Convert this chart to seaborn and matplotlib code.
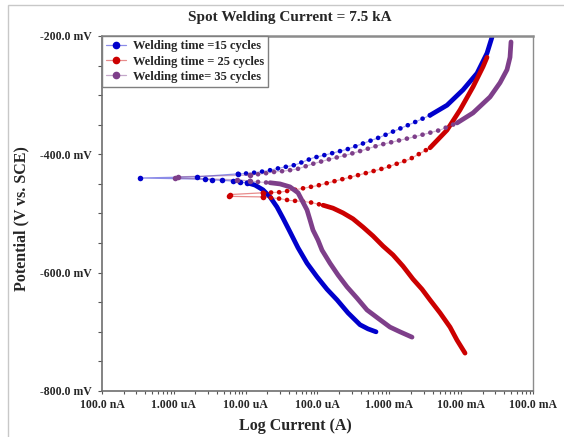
import numpy as np
import pandas as pd
import seaborn as sns
import matplotlib
matplotlib.use("Agg")
import matplotlib.pyplot as plt
from matplotlib.lines import Line2D
from matplotlib.patches import Rectangle
from matplotlib.ticker import FixedLocator, FixedFormatter, LogLocator, MultipleLocator, NullFormatter

sns.set_theme(style="white")
plt.rcParams["font.family"] = ["Liberation Serif", "DejaVu Serif"]
plt.rcParams["font.weight"] = "bold"

TITLE = "Spot Welding Current = 7.5 kA"
X_LABEL = "Log Current (A)"
Y_LABEL = "Potential (V vs. SCE)"
series_names = ["Welding time =15 cycles", "Welding time = 25 cycles", "Welding time= 35 cycles"]
series_colors = ["#0000cc", "#cc0000", "#7e3f8a"]

current_ticks = [1e-7, 1e-6, 1e-5, 1e-4, 1e-3, 1e-2, 1e-1]
current_labels = ["100.0 nA", "1.000 uA", "10.00 uA", "100.0 uA", "1.000 mA", "10.00 mA", "100.0 mA"]
potential_ticks = [-800, -600, -400, -200]
potential_labels = ["-800.0 mV", "-600.0 mV", "-400.0 mV", "-200.0 mV"]

# log10(current / A) and potential (mV)
# 15 cycles
c15_cath_logi = [-4.981, -4.870, -4.759, -4.661, -4.564, -4.480, -4.383, -4.271, -4.146, -4.007,
                 -3.868, -3.728, -3.575, -3.408, -3.297, -3.185]
c15_cath_mv = [-448, -452, -460, -472, -489, -508, -531, -558, -584, -607,
               -628, -646, -668, -688, -695, -700]
c15_ecorr_logi = [-5.079, -5.176, -5.329, -5.469, -5.566, -6.471, -5.677]
c15_ecorr_mv = [-447, -445, -444, -443, -442, -440, -438]
c15_anod_logi = [-5.107, -4.940, -4.703, -4.522, -4.313, -4.063, -3.826, -3.575, -3.130, -2.670,
                 -2.434, -2.197, -1.974, -1.779, -1.640, -1.571]
c15_anod_mv = [-433, -432, -428, -423, -418, -406, -399, -391, -371, -347,
               -334, -317, -291, -263, -229, -202]

# 25 cycles
c25_cath_logi = [-4.759, -4.522, -4.383, -4.271, -4.104, -3.923, -3.784, -3.645, -3.506, -3.366,
                 -3.227, -3.088, -2.949, -2.810, -2.670, -2.545, -2.434, -2.294, -2.155, -2.058, -1.946]
c25_cath_mv = [-472, -475, -478, -479, -481, -486, -491, -499, -509, -523,
               -538, -555, -570, -589, -611, -628, -646, -668, -692, -714, -736]
c25_ecorr_logi = [-5.232, -5.220]
c25_ecorr_mv = [-471, -468]
c25_anod_logi = [-4.759, -4.522, -4.271, -4.007, -3.687, -3.366, -3.060, -2.712, -2.434, -2.197,
                 -2.016, -1.835, -1.696, -1.640]
c25_anod_mv = [-465, -464, -459, -453, -443, -433, -423, -408, -389, -359,
               -325, -286, -252, -236]

# 35 cycles
c35_cath_logi = [-4.940, -4.800, -4.661, -4.522, -4.383, -4.271, -4.202, -4.146, -4.104, -4.063,
                 -3.993, -3.937, -3.826, -3.714, -3.589, -3.450, -3.311, -3.158, -2.991, -2.851, -2.684]
c35_cath_mv = [-445, -447, -448, -450, -455, -465, -481, -494, -511, -528,
               -545, -562, -584, -604, -624, -643, -663, -677, -692, -700, -709]
c35_ecorr_logi = [-5.121, -5.984, -5.942]
c35_ecorr_mv = [-443, -440, -438]
c35_anod_logi = [-4.940, -4.773, -4.619, -4.452, -4.285, -4.063, -3.826, -3.589, -3.366, -3.130,
                 -2.670, -2.294, -2.058, -1.835, -1.598, -1.459, -1.362, -1.320, -1.306]
c35_anod_mv = [-435, -433, -430, -428, -425, -416, -408, -401, -393, -384,
               -371, -359, -347, -330, -303, -279, -257, -236, -210]

curves = [
    (c15_cath_logi, c15_cath_mv, c15_ecorr_logi, c15_ecorr_mv, c15_anod_logi, c15_anod_mv),
    (c25_cath_logi, c25_cath_mv, c25_ecorr_logi, c25_ecorr_mv, c25_anod_logi, c25_anod_mv),
    (c35_cath_logi, c35_cath_mv, c35_ecorr_logi, c35_ecorr_mv, c35_anod_logi, c35_anod_mv),
]
# where the sparse dots turn into a solid-looking trace (mV)
cath_dot_limit = [-448, -486, -448]
anod_dot_limit = [-334, -389, -347]

DOTS = (0, (0.01, 1.7))


def draw_seg(ax, logi, mv, color, dotted):
    if len(logi) < 2:
        return
    df = pd.DataFrame({"I": np.power(10.0, logi), "E": mv})
    if dotted:
        sns.lineplot(data=df, x="I", y="E", sort=False, estimator=None, ax=ax,
                     color=color, lw=0.8, alpha=0.35)
        sns.lineplot(data=df, x="I", y="E", sort=False, estimator=None, ax=ax,
                     color=color, lw=3.4, linestyle=DOTS, dash_capstyle="round")
    else:
        sns.lineplot(data=df, x="I", y="E", sort=False, estimator=None, ax=ax,
                     color=color, lw=3.4, solid_capstyle="round", solid_joinstyle="round")


def draw_curve(ax, curve, color, cath_lim, anod_lim):
    cl, cm, el, em, al, am = [np.asarray(a, dtype=float) for a in curve]
    # cathodic branch (listed from Ecorr downward)
    d = cm >= cath_lim
    s = cm <= cath_lim
    draw_seg(ax, cl[d], cm[d], color, True)
    draw_seg(ax, cl[s], cm[s], color, False)
    # anodic branch (listed from Ecorr upward)
    d = am <= anod_lim
    s = am >= anod_lim
    draw_seg(ax, al[d], am[d], color, True)
    draw_seg(ax, al[s], am[s], color, False)
    # thin link through the points around Ecorr
    link_l = np.concatenate([[cl[0]], el, [al[0]]])
    link_m = np.concatenate([[cm[0]], em, [am[0]]])
    df = pd.DataFrame({"I": np.power(10.0, link_l), "E": link_m})
    sns.lineplot(data=df, x="I", y="E", sort=False, estimator=None, ax=ax,
                 color=color, lw=0.9, alpha=0.45)
    sns.scatterplot(x=np.power(10.0, link_l), y=link_m, ax=ax, color=color,
                    s=16, linewidth=0, zorder=3)


fig = plt.figure(figsize=(5.64, 4.37), dpi=100)
ax = fig.add_axes([102 / 564, 1 - 391 / 437, 431 / 564, 355 / 437])
ax.set_xscale("log")

for curve, color, cl, al in zip(curves, series_colors, cath_dot_limit, anod_dot_limit):
    draw_curve(ax, curve, color, cl, al)

ax.set_xlim(1e-7, 1e-1)
ax.set_ylim(-800, -200)

ax.xaxis.set_major_locator(FixedLocator(current_ticks))
ax.xaxis.set_major_formatter(FixedFormatter(current_labels))
ax.xaxis.set_minor_locator(LogLocator(base=10, subs=np.arange(2, 10)))
ax.xaxis.set_minor_formatter(NullFormatter())
ax.yaxis.set_major_locator(FixedLocator(potential_ticks))
ax.yaxis.set_major_formatter(FixedFormatter(potential_labels))
ax.yaxis.set_minor_locator(MultipleLocator(50))

ax.tick_params(axis="x", which="both", direction="out", length=2.5, width=0.8,
               color="#555555", pad=3, labelsize=8.5, bottom=True)
ax.tick_params(axis="y", which="both", direction="out", length=3, width=0.8,
               color="#555555", pad=4.5, labelsize=8.5, left=True)
for lab in ax.get_xticklabels() + ax.get_yticklabels():
    lab.set_fontweight("bold")

ax.spines["top"].set_color("#8c8c8c")
ax.spines["top"].set_linewidth(1.8)
ax.spines["right"].set_color("#8c8c8c")
ax.spines["right"].set_linewidth(1.0)
ax.spines["left"].set_color("#6e6e6e")
ax.spines["left"].set_linewidth(1.2)
ax.spines["bottom"].set_color("#6e6e6e")
ax.spines["bottom"].set_linewidth(1.2)

ax.set_xlabel(X_LABEL, fontsize=11.5, fontweight="bold")
ax.set_ylabel(Y_LABEL, fontsize=11.5, fontweight="bold")
ax.xaxis.set_label_coords(0.448, -0.076)
ax.yaxis.set_label_coords(-0.169, 0.487)
fig.suptitle(TITLE, x=0.514, y=1 - 11 / 437, va="top", fontsize=11, fontweight="bold")

handles = [Line2D([], [], color=matplotlib.colors.to_rgba(c, 0.45), lw=0.9, marker="o",
                  markersize=4.5, markerfacecolor=c, markeredgecolor=c)
           for c in series_colors]
leg = ax.legend(handles, series_names, loc="upper left", borderaxespad=0, frameon=True,
                fancybox=False, edgecolor="#7f7f7f", framealpha=1,
                prop={"weight": "bold", "size": 9}, handlelength=1.6,
                handletextpad=0.5, labelspacing=0.25, borderpad=0.35)
leg.get_frame().set_linewidth(1.0)

fig.add_artist(Rectangle((8 / 564, -0.2), 1.5, 0.2 + 1 - 5 / 437, transform=fig.transFigure,
                         fill=False, edgecolor="#c8c8c8", linewidth=1.0))

fig.savefig("out.png", dpi=100)
